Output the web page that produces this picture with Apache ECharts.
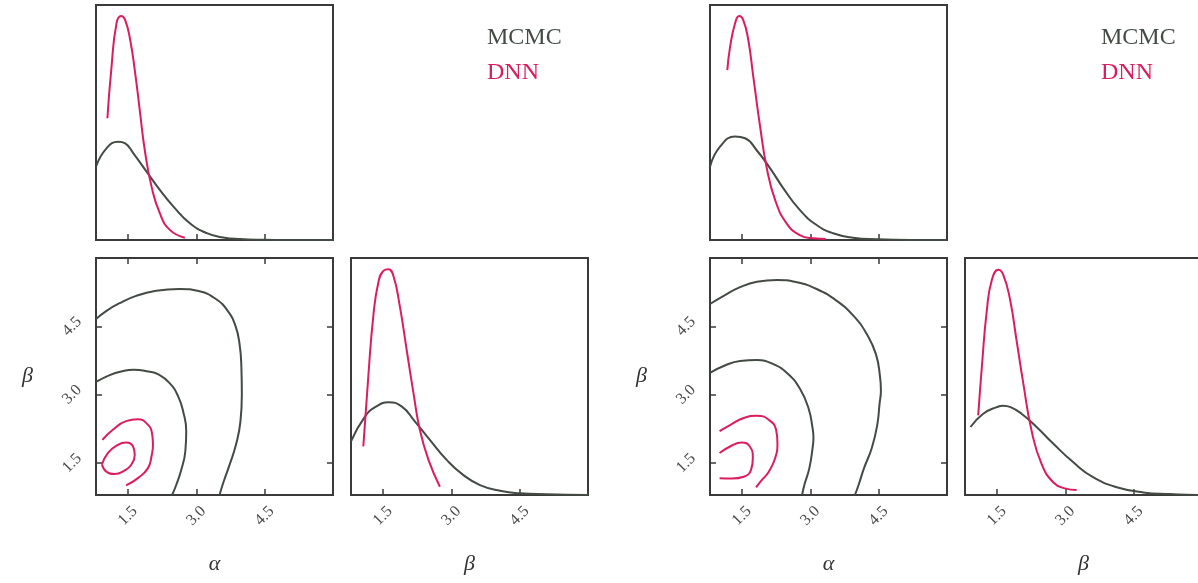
<!DOCTYPE html>
<html>
<head>
<meta charset="utf-8">
<title>MCMC vs DNN posterior</title>
<script src="https://cdn.jsdelivr.net/npm/echarts@6.0.0/dist/echarts.min.js"></script>
<style>
  html, body { margin: 0; padding: 0; background: #fff; }
  #chart { width: 1198px; height: 583px; }
</style>
</head>
<body>
<div id="chart"></div>
<script>
// --- Data (alpha / beta, marginal heights scaled to panel = 1) ---
const tickValues = [1.5, 3.0, 4.5];
const seriesNames = ['MCMC', 'DNN'];

// left corner plot
const leftAlphaMcmc = [[0.8, 0.312], [1.03, 0.39], [1.29, 0.418], [1.44, 0.411], [1.62, 0.369], [1.91, 0.291], [2.2, 0.213], [2.5, 0.142], [2.86, 0.071], [3.23, 0.029], [3.59, 0.011], [3.96, 0.004], [4.47, 0.001], [5.0, 0], [6.0, 0]];
const leftAlphaDnn = [[1.05, 0.518], [1.14, 0.736], [1.25, 0.922], [1.35, 0.953], [1.44, 0.936], [1.55, 0.851], [1.66, 0.709], [1.76, 0.553], [1.87, 0.383], [2.02, 0.226], [2.2, 0.114], [2.42, 0.043], [2.75, 0.01]];
const leftBetaMcmc = [[0.8, 0.226], [1.11, 0.332], [1.36, 0.374], [1.62, 0.391], [1.91, 0.374], [2.2, 0.311], [2.53, 0.233], [2.9, 0.148], [3.26, 0.085], [3.63, 0.042], [4.07, 0.018], [4.51, 0.007], [5.09, 0.003], [6.0, 0]];
const leftBetaDnn = [[1.07, 0.205], [1.18, 0.501], [1.29, 0.756], [1.4, 0.897], [1.51, 0.946], [1.62, 0.953], [1.73, 0.925], [1.87, 0.798], [2.02, 0.614], [2.17, 0.431], [2.31, 0.275], [2.5, 0.148], [2.75, 0.035]];
const leftMcmcOuter = [[0.8, 4.66], [1.03, 4.84], [1.32, 5.01], [1.68, 5.17], [2.12, 5.28], [2.63, 5.32], [3.07, 5.27], [3.43, 5.1], [3.69, 4.84], [3.86, 4.51], [3.95, 4.11], [3.99, 3.6], [4.0, 3.01], [3.97, 2.42], [3.87, 1.9], [3.73, 1.46], [3.6, 1.09], [3.51, 0.8]];
const leftMcmcInner = [[0.8, 3.28], [1.1, 3.43], [1.35, 3.51], [1.63, 3.55], [1.95, 3.51], [2.16, 3.45], [2.41, 3.26], [2.6, 2.97], [2.72, 2.6], [2.78, 2.2], [2.76, 1.76], [2.67, 1.35], [2.56, 1.02], [2.47, 0.8]];
const leftDnnOuter = [[0.94, 2.01], [1.17, 2.23], [1.46, 2.42], [1.72, 2.46], [1.92, 2.36], [2.03, 2.15], [2.05, 1.9], [2.02, 1.66], [1.94, 1.39], [1.72, 1.17], [1.46, 1.01]];
const leftDnnInner = [[0.93, 1.47], [1.06, 1.72], [1.28, 1.9], [1.46, 1.95], [1.61, 1.87], [1.65, 1.68], [1.57, 1.46], [1.43, 1.34], [1.21, 1.26], [1.03, 1.31], [0.93, 1.47]];

// right corner plot
const rightAlphaMcmc = [[0.8, 0.312], [1.02, 0.397], [1.35, 0.44], [1.57, 0.433], [1.82, 0.383], [2.12, 0.305], [2.41, 0.22], [2.77, 0.128], [3.14, 0.064], [3.5, 0.029], [3.94, 0.01], [4.46, 0.003], [5.2, 0], [6.0, 0]];
const rightAlphaDnn = [[1.18, 0.723], [1.24, 0.821], [1.35, 0.922], [1.44, 0.953], [1.53, 0.936], [1.64, 0.851], [1.75, 0.695], [1.9, 0.482], [2.04, 0.312], [2.23, 0.17], [2.48, 0.071], [2.77, 0.021], [3.07, 0.007], [3.34, 0.004]];
const rightBetaMcmc = [[0.92, 0.287], [1.2, 0.343], [1.5, 0.371], [1.64, 0.377], [1.8, 0.371], [2.04, 0.343], [2.37, 0.287], [2.74, 0.216], [3.17, 0.139], [3.61, 0.075], [4.13, 0.033], [4.71, 0.011], [5.3, 0.004], [5.88, 0], [6.0, 0]];
const rightBetaDnn = [[1.09, 0.336], [1.17, 0.541], [1.28, 0.781], [1.39, 0.908], [1.53, 0.95], [1.64, 0.929], [1.79, 0.823], [1.93, 0.654], [2.08, 0.47], [2.26, 0.272], [2.48, 0.131], [2.74, 0.053], [2.99, 0.028], [3.25, 0.021]];
const rightMcmcOuter = [[0.8, 4.99], [1.1, 5.17], [1.46, 5.36], [1.83, 5.48], [2.27, 5.52], [2.7, 5.47], [3.14, 5.32], [3.58, 5.06], [3.95, 4.73], [4.24, 4.33], [4.44, 3.89], [4.53, 3.4], [4.55, 3.1], [4.52, 2.8], [4.47, 2.34], [4.35, 1.83], [4.18, 1.39], [4.06, 1.02], [3.98, 0.8]];
const rightMcmcInner = [[0.8, 3.48], [1.1, 3.63], [1.46, 3.74], [1.83, 3.76], [2.19, 3.67], [2.52, 3.45], [2.78, 3.12], [2.96, 2.71], [3.05, 2.27], [3.07, 2.05], [3.05, 1.83], [2.98, 1.39], [2.87, 1.02], [2.82, 0.8]];
const rightDnnOuter = [[1.01, 2.2], [1.25, 2.34], [1.54, 2.49], [1.83, 2.54], [2.09, 2.45], [2.25, 2.23], [2.28, 1.94], [2.23, 1.61], [2.09, 1.31], [1.94, 1.13], [1.81, 0.97]];
const rightDnnInner = [[1.01, 1.72], [1.25, 1.87], [1.5, 1.95], [1.67, 1.87], [1.74, 1.61], [1.7, 1.35], [1.54, 1.2], [1.28, 1.16], [1.01, 1.17]];

(function () {
  'use strict';

  const SERIF = "'Liberation Serif', 'DejaVu Serif', serif";
  const MCMC_COLOR = '#434b44';
  const DNN_COLOR = '#dc1d5c';
  const FRAME = '#3a3a3a';
  const RANGE = [0.8, 6.0];

  const grids = [];
  const xAxes = [];
  const yAxes = [];
  const series = [];

  // --- helpers ---
  function addGrid(left, top, width, height) {
    grids.push({
      left: left, top: top, width: width, height: height,
      show: true, borderColor: FRAME, borderWidth: 2,
      backgroundColor: 'transparent',
      outerBoundsMode: 'none', containLabel: false
    });
    return grids.length - 1;
  }

  function tickAxis(gridIndex, position, opts) {
    opts = opts || {};
    return {
      type: 'value', gridIndex: gridIndex, position: position,
      min: RANGE[0], max: RANGE[1],
      axisLine: { show: false },
      splitLine: { show: false },
      axisTick: {
        show: true, inside: true, length: 6,
        customValues: tickValues,
        lineStyle: { color: FRAME, width: 1.5 }
      },
      axisLabel: opts.labels ? {
        show: true, rotate: 45, customValues: tickValues,
        align: 'center', verticalAlign: 'middle',
        margin: opts.margin, fontFamily: SERIF, fontSize: 16, color: '#4a4a4a',
        formatter: function (v) { return v.toFixed(1); }
      } : { show: false },
      name: opts.name || '',
      nameLocation: 'middle',
      nameGap: opts.nameGap || 0,
      nameRotate: 0,
      nameTextStyle: { fontFamily: SERIF, fontStyle: 'italic', fontSize: 22, color: '#333' }
    };
  }

  function hiddenY(gridIndex) {
    return { type: 'value', gridIndex: gridIndex, min: 0, max: 1, show: false };
  }

  function line(name, data, xi, yi) {
    const color = name === 'MCMC' ? MCMC_COLOR : DNN_COLOR;
    series.push({
      name: name, type: 'line', data: data,
      xAxisIndex: xi, yAxisIndex: yi,
      showSymbol: false, symbol: 'none',
      smooth: true,
      lineStyle: { color: color, width: 2 },
      itemStyle: { color: color },
      silent: true
    });
  }

  // --- one corner plot: alpha marginal, alpha-beta contours, beta marginal ---
  function cornerPlot(x0, alpha, beta, contours) {
    // alpha marginal
    const g0 = addGrid(x0, 5, 237, 235);
    xAxes.push(tickAxis(g0, 'bottom'));
    const xa = xAxes.length - 1;
    yAxes.push(hiddenY(g0));
    const ya = yAxes.length - 1;
    line('MCMC', alpha[0], xa, ya);
    line('DNN', alpha[1], xa, ya);

    // contour panel
    const g1 = addGrid(x0, 258, 237, 237);
    xAxes.push(tickAxis(g1, 'bottom', { labels: true, margin: 21, name: 'α', nameGap: 58 }));
    const xc = xAxes.length - 1;
    xAxes.push(tickAxis(g1, 'top'));
    yAxes.push(tickAxis(g1, 'left', { labels: true, margin: 24, name: 'β', nameGap: 63 }));
    const yc = yAxes.length - 1;
    yAxes.push(tickAxis(g1, 'right'));
    contours.forEach(function (c) { line(c[0], c[1], xc, yc); });

    // beta marginal
    const g2 = addGrid(x0 + 255, 258, 237, 237);
    xAxes.push(tickAxis(g2, 'bottom', { labels: true, margin: 21, name: 'β', nameGap: 58 }));
    const xb = xAxes.length - 1;
    yAxes.push(hiddenY(g2));
    const yb = yAxes.length - 1;
    line('MCMC', beta[0], xb, yb);
    line('DNN', beta[1], xb, yb);
  }

  cornerPlot(96, [leftAlphaMcmc, leftAlphaDnn], [leftBetaMcmc, leftBetaDnn],
    [['MCMC', leftMcmcOuter], ['MCMC', leftMcmcInner], ['DNN', leftDnnOuter], ['DNN', leftDnnInner]]);
  cornerPlot(710, [rightAlphaMcmc, rightAlphaDnn], [rightBetaMcmc, rightBetaDnn],
    [['MCMC', rightMcmcOuter], ['MCMC', rightMcmcInner], ['DNN', rightDnnOuter], ['DNN', rightDnnInner]]);

  function legendAt(left) {
    return {
      left: left, top: 21, orient: 'vertical',
      icon: 'none', itemWidth: 0, itemHeight: 24, itemGap: 11,
      selectedMode: false,
      textStyle: { fontFamily: SERIF, fontSize: 24 },
      data: [
        { name: seriesNames[0], textStyle: { color: MCMC_COLOR } },
        { name: seriesNames[1], textStyle: { color: DNN_COLOR } }
      ]
    };
  }

  const chart = echarts.init(document.getElementById('chart'), null, { renderer: 'canvas' });
  chart.setOption({
    animation: false,
    backgroundColor: '#fff',
    legend: [legendAt(477), legendAt(1091)],
    grid: grids,
    xAxis: xAxes,
    yAxis: yAxes,
    series: series
  });

  window.addEventListener('resize', function () { chart.resize(); });
})();
</script>
</body>
</html>
